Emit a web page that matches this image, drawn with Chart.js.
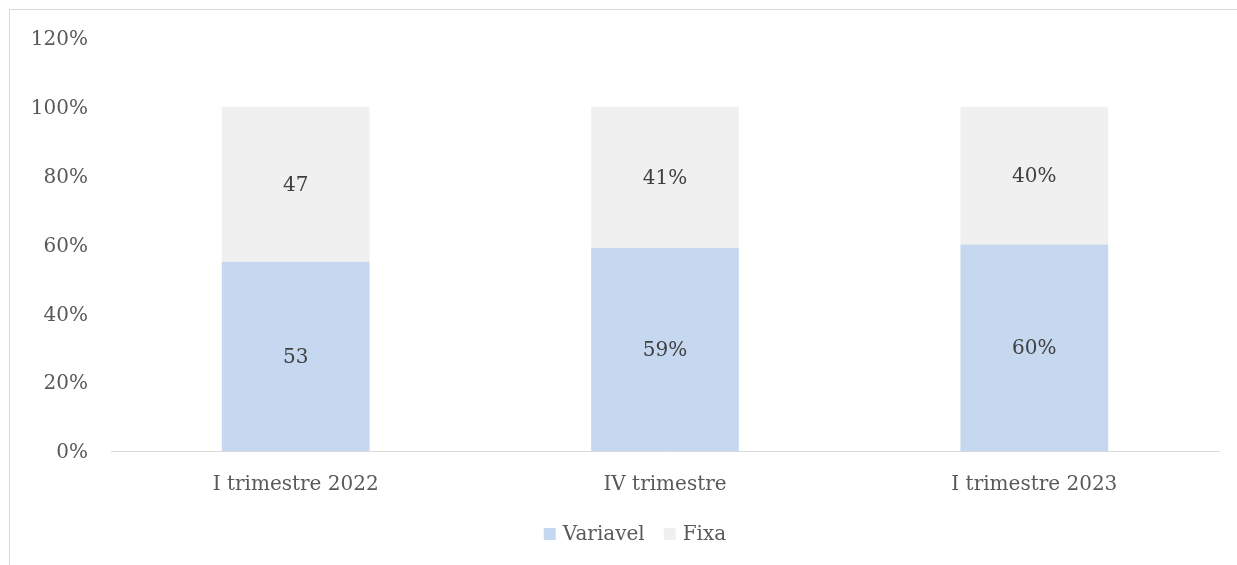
<!DOCTYPE html>
<html>
<head>
<meta charset="utf-8">
<script src="https://cdn.jsdelivr.net/npm/chart.js@4/dist/chart.umd.min.js"></script>
<style>
html,body{margin:0;padding:0;background:#fff;}
#wrap{position:relative;width:1237px;height:565px;}
</style>
</head>
<body>
<div id="wrap"><canvas id="c" width="1237" height="565"></canvas></div>
<script>
const categories = ["I trimestre 2022", "IV trimestre", "I trimestre 2023"];
const variavelValues = [55, 59, 60];
const fixaValues = [45, 41, 40];
const variavelLabels = ["53", "59%", "60%"];
const fixaLabels = ["47", "41%", "40%"];
const yTicks = [0, 20, 40, 60, 80, 100, 120];

const FONT = "'DejaVu Serif', serif";

const frame = {
  id: 'frame',
  beforeDraw(chart) {
    const ctx = chart.ctx;
    ctx.save();
    ctx.strokeStyle = '#d9d9d9';
    ctx.lineWidth = 1;
    ctx.strokeRect(9.5, 9.5, 1300, 700);
    ctx.restore();
  }
};

const valueLabels = {
  id: 'valueLabels',
  afterDatasetsDraw(chart) {
    const ctx = chart.ctx;
    const sets = [variavelLabels, fixaLabels];
    ctx.save();
    ctx.font = "20px " + FONT;
    ctx.fillStyle = '#404040';
    ctx.textAlign = 'center';
    ctx.textBaseline = 'middle';
    chart.data.datasets.forEach((ds, i) => {
      const meta = chart.getDatasetMeta(i);
      meta.data.forEach((bar, j) => {
        const y = (bar.y + bar.base) / 2 + 1.5;
        ctx.fillText(sets[i][j], bar.x, y);
      });
    });
    ctx.restore();
  }
};

const customLegend = {
  id: 'customLegend',
  afterDraw(chart, args, opts) {
    const ctx = chart.ctx;
    ctx.save();
    ctx.font = "20px " + FONT;
    ctx.textBaseline = 'middle';
    ctx.textAlign = 'left';
    const box = 12, gapText = 7, gapItem = 19;
    const items = chart.data.datasets.map(ds => ({ label: ds.label, color: ds.backgroundColor, w: ctx.measureText(ds.label).width }));
    let total = 0;
    items.forEach((it, i) => { total += box + gapText + it.w + (i < items.length - 1 ? gapItem : 0); });
    let x = opts.centerX - total / 2;
    const y = opts.centerY;
    items.forEach(it => {
      ctx.fillStyle = it.color;
      ctx.fillRect(x, y - 6, box, box);
      ctx.fillStyle = '#595959';
      ctx.fillText(it.label, x + box + gapText, y + 1);
      x += box + gapText + it.w + gapItem;
    });
    ctx.restore();
  }
};

new Chart(document.getElementById('c'), {
  type: 'bar',
  data: {
    labels: categories,
    datasets: [
      { label: 'Variavel', data: variavelValues, backgroundColor: '#c5d8f0', barPercentage: 0.4, categoryPercentage: 1.0 },
      { label: 'Fixa', data: fixaValues, backgroundColor: '#f0f0f0', barPercentage: 0.4, categoryPercentage: 1.0 }
    ]
  },
  options: {
    responsive: false,
    animation: false,
    layout: { padding: { top: 38, right: 18, bottom: 50, left: 0 } },
    plugins: {
      legend: { display: false },
      tooltip: { enabled: false },
      customLegend: { centerX: 635, centerY: 534 }
    },
    scales: {
      x: {
        stacked: true,
        afterFit(axis) { axis.height = 64; },
        grid: { display: false },
        border: { color: '#d9d9d9', width: 1 },
        ticks: { font: { family: FONT, size: 20 }, color: '#595959', padding: 14 }
      },
      y: {
        stacked: true,
        min: 0, max: 120,
        afterBuildTicks(axis) { axis.ticks = yTicks.map(v => ({ value: v })); },
        afterFit(axis) { axis.width = 111; },
        grid: { display: false },
        border: { display: false },
        ticks: { font: { family: FONT, size: 20 }, color: '#595959', padding: 15, labelOffset: 2, callback: v => v + '%' }
      }
    }
  },
  plugins: [frame, valueLabels, customLegend]
});
</script>
</body>
</html>
